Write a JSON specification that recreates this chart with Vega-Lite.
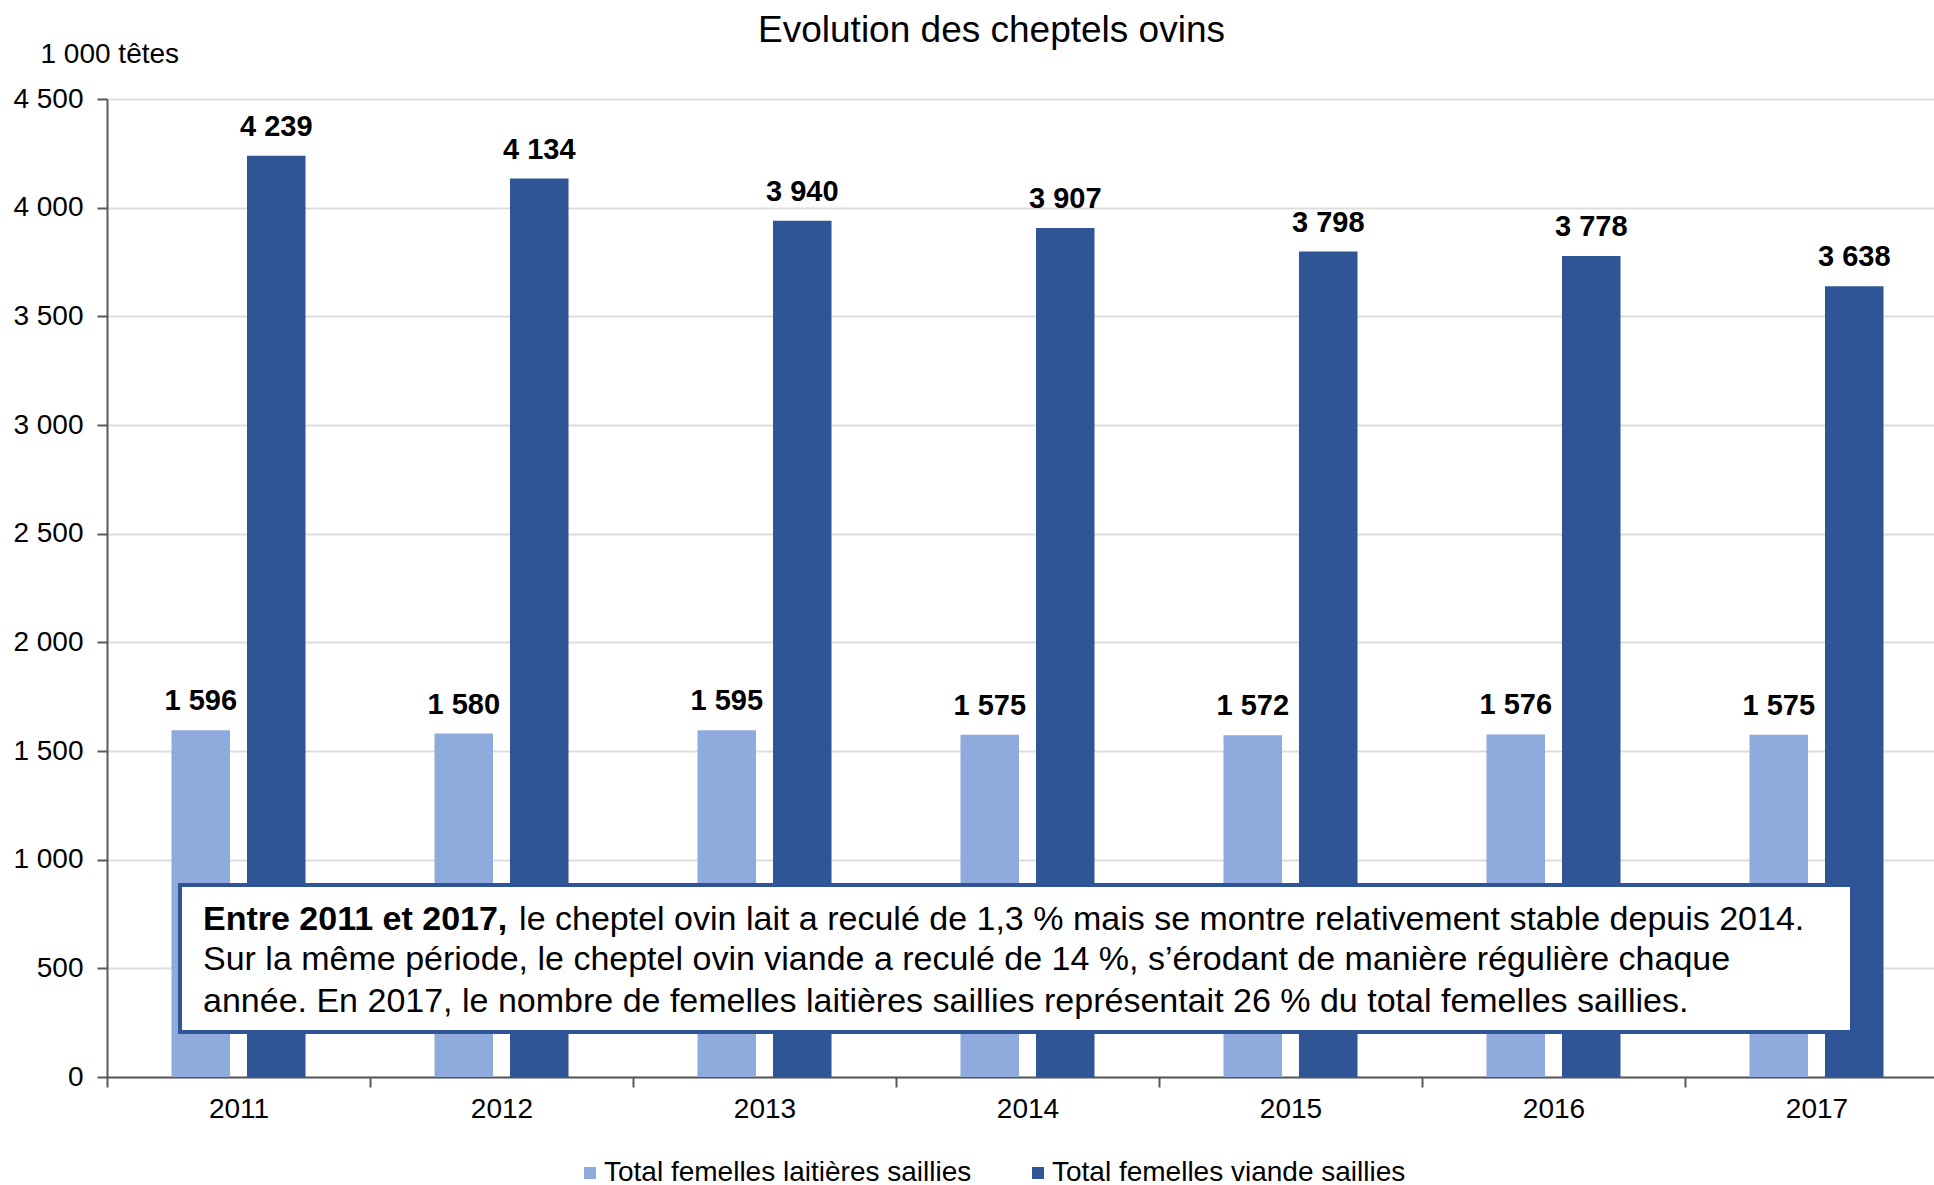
{
  "$schema": "https://vega.github.io/schema/vega-lite/v6.json",
  "width": 1841,
  "height": 978,
  "autosize": {"type": "none"},
  "padding": {"left": 107, "top": 99, "right": -14, "bottom": 108},
  "background": "white",
  "title": {
    "text": "Evolution des cheptels ovins",
    "fontSize": 37,
    "fontWeight": "normal",
    "color": "#000000",
    "anchor": "middle",
    "dx": -36,
    "dy": 39,
    "baseline": "alphabetic",
    "offset": 0
  },
  "config": {
    "font": "Liberation Sans",
    "locale": {"number": {"decimal": ",", "thousands": " ", "grouping": [3], "currency": ["", " €"]}},
    "view": {"stroke": null}
  },
  "layer": [
    {
      "data": {
        "values": [
          {"annee": "2011", "serie": "Total femelles laitières saillies", "valeur": 1596},
          {"annee": "2011", "serie": "Total femelles viande saillies", "valeur": 4239},
          {"annee": "2012", "serie": "Total femelles laitières saillies", "valeur": 1580},
          {"annee": "2012", "serie": "Total femelles viande saillies", "valeur": 4134},
          {"annee": "2013", "serie": "Total femelles laitières saillies", "valeur": 1595},
          {"annee": "2013", "serie": "Total femelles viande saillies", "valeur": 3940},
          {"annee": "2014", "serie": "Total femelles laitières saillies", "valeur": 1575},
          {"annee": "2014", "serie": "Total femelles viande saillies", "valeur": 3907},
          {"annee": "2015", "serie": "Total femelles laitières saillies", "valeur": 1572},
          {"annee": "2015", "serie": "Total femelles viande saillies", "valeur": 3798},
          {"annee": "2016", "serie": "Total femelles laitières saillies", "valeur": 1576},
          {"annee": "2016", "serie": "Total femelles viande saillies", "valeur": 3778},
          {"annee": "2017", "serie": "Total femelles laitières saillies", "valeur": 1575},
          {"annee": "2017", "serie": "Total femelles viande saillies", "valeur": 3638}
        ]
      },
      "encoding": {
        "x": {
          "field": "annee",
          "type": "nominal",
          "scale": {"paddingInner": 0, "paddingOuter": 0},
          "axis": {
            "title": null,
            "labelAngle": 0,
            "labelFontSize": 28,
            "labelColor": "#000000",
            "labelPadding": 8,
            "tickBand": "extent",
            "tickSize": 10,
            "tickColor": "#595959",
            "tickWidth": 2,
            "domainColor": "#595959",
            "domainWidth": 2,
            "grid": false
          }
        },
        "xOffset": {
          "field": "serie",
          "type": "nominal",
          "scale": {
            "domain": ["Total femelles laitières saillies", "Total femelles viande saillies"],
            "paddingInner": 0.225,
            "paddingOuter": 0.854
          }
        },
        "y": {
          "field": "valeur",
          "type": "quantitative",
          "scale": {"domain": [0, 4500], "nice": false},
          "axis": {
            "values": [0, 500, 1000, 1500, 2000, 2500, 3000, 3500, 4000, 4500],
            "format": ",d",
            "labelFontSize": 28,
            "labelColor": "#000000",
            "labelPadding": 14,
            "tickSize": 10,
            "tickColor": "#595959",
            "tickWidth": 2,
            "domainColor": "#595959",
            "domainWidth": 2,
            "gridColor": "#DDDDDD",
            "gridWidth": 2,
            "title": "1 000 têtes",
            "titleAngle": 0,
            "titleAlign": "left",
            "titleBaseline": "alphabetic",
            "titleX": -67,
            "titleY": -37,
            "titleFontSize": 28,
            "titleFontWeight": "normal",
            "titleColor": "#000000"
          }
        }
      },
      "layer": [
        {
          "mark": {"type": "bar"},
          "encoding": {
            "color": {
              "field": "serie",
              "type": "nominal",
              "scale": {
                "domain": ["Total femelles laitières saillies", "Total femelles viande saillies"],
                "range": ["#8FAADC", "#2F5597"]
              },
              "legend": {
                "title": null,
                "orient": "none",
                "direction": "horizontal",
                "legendX": 469,
                "legendY": 1060,
                "symbolType": "square",
                "symbolSize": 144,
                "symbolStrokeWidth": 0,
                "labelFontSize": 28,
                "labelColor": "#000000",
                "labelOffset": 0,
                "labelLimit": 0,
                "columnPadding": 52,
                "padding": 0
              }
            }
          }
        },
        {
          "mark": {
            "type": "text",
            "fontSize": 29,
            "fontWeight": "bold",
            "color": "#000000",
            "baseline": "alphabetic",
            "dy": -20
          },
          "encoding": {
            "text": {"field": "valeur", "type": "quantitative", "format": ",d"}
          }
        }
      ]
    },
    {
      "data": {"values": [{"x0": 0.2776, "x1": 6.635, "y0": 207, "y1": 883}]},
      "mark": {"type": "rect", "fill": "white", "stroke": "#2F5597", "strokeWidth": 4},
      "encoding": {
        "x": {"field": "x0", "type": "quantitative", "scale": {"domain": [0, 7]}, "axis": null},
        "x2": {"field": "x1"},
        "y": {"field": "y0", "type": "quantitative"},
        "y2": {"field": "y1"}
      }
    },
    {
      "data": {"values": [{"tx": 0.365, "ty": 676, "txt": "Entre 2011 et 2017,"}]},
      "mark": {"type": "text", "fontSize": 34, "fontWeight": "bold", "color": "#000000", "align": "left", "baseline": "alphabetic"},
      "encoding": {
        "x": {"field": "tx", "type": "quantitative", "scale": {"domain": [0, 7]}, "axis": null},
        "y": {"field": "ty", "type": "quantitative"},
        "text": {"field": "txt"}
      }
    },
    {
      "data": {
        "values": [
          {"tx": 1.567, "ty": 676, "txt": "le cheptel ovin lait a reculé de 1,3 % mais se montre relativement stable depuis 2014."},
          {"tx": 0.365, "ty": 492, "txt": "Sur la même période, le cheptel ovin viande a reculé de 14 %, s’érodant de manière régulière chaque"},
          {"tx": 0.365, "ty": 299, "txt": "année. En 2017, le nombre de femelles laitières saillies représentait 26 % du total femelles saillies."}
        ]
      },
      "mark": {"type": "text", "fontSize": 34, "fontWeight": "normal", "color": "#000000", "align": "left", "baseline": "alphabetic"},
      "encoding": {
        "x": {"field": "tx", "type": "quantitative", "scale": {"domain": [0, 7]}, "axis": null},
        "y": {"field": "ty", "type": "quantitative"},
        "text": {"field": "txt"}
      }
    }
  ],
  "resolve": {"scale": {"x": "independent", "xOffset": "independent"}, "axis": {"x": "independent"}}
}
